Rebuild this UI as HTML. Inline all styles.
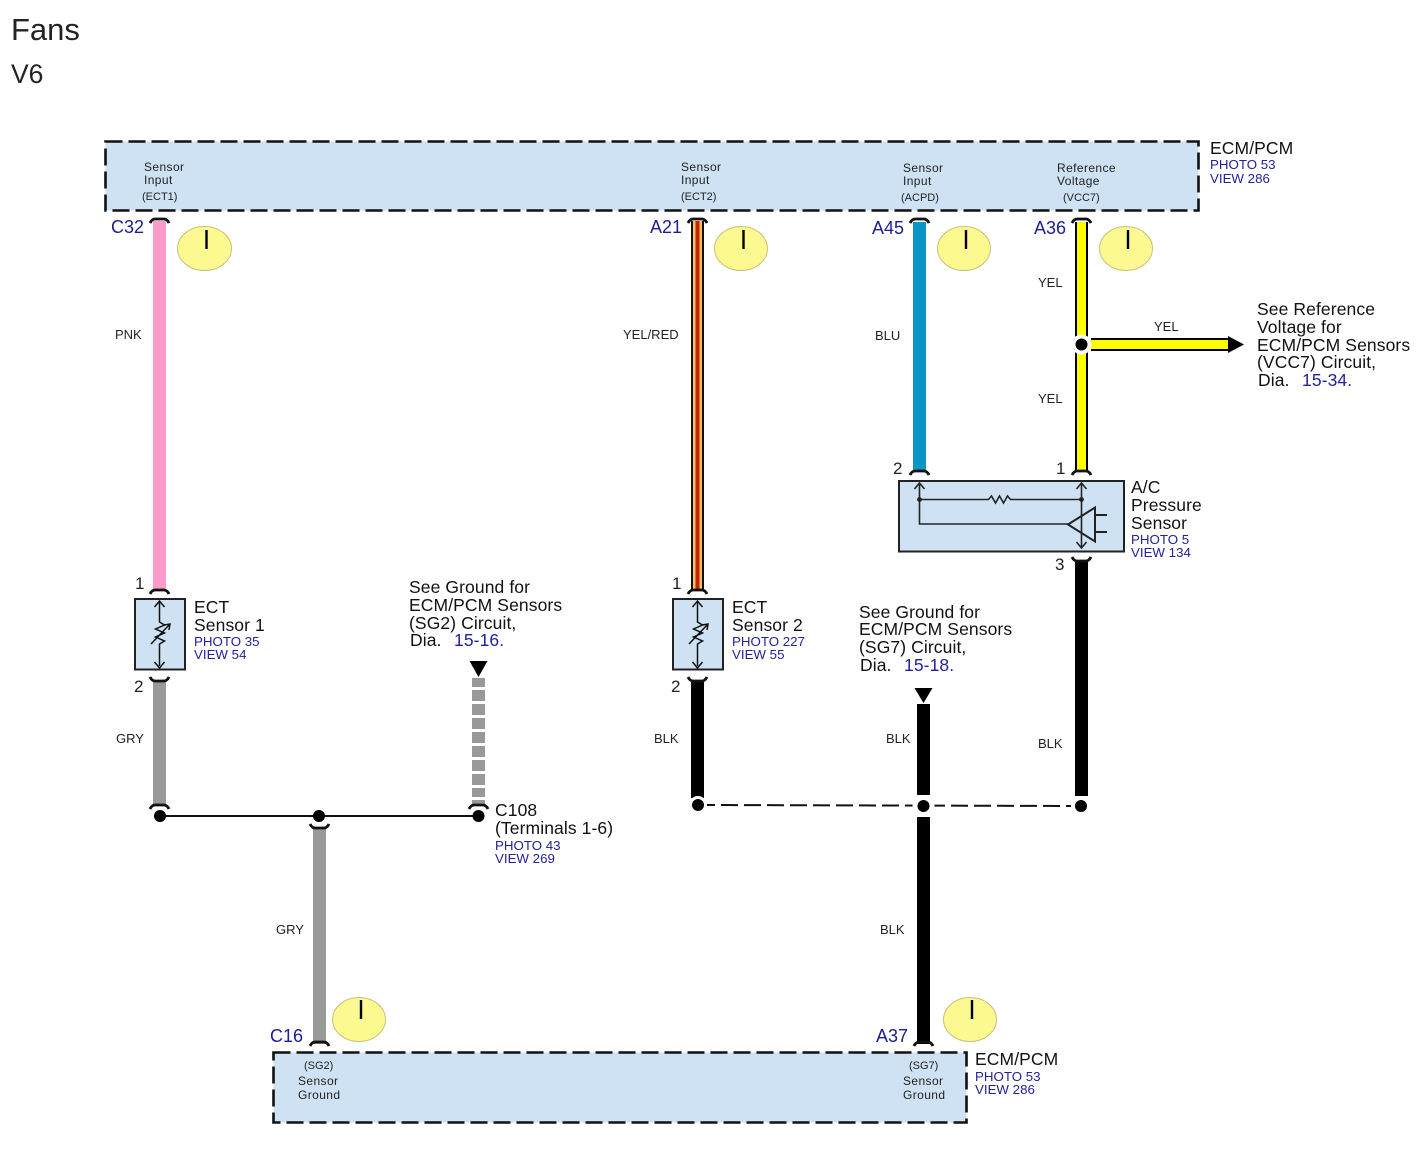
<!DOCTYPE html>
<html><head><meta charset="utf-8"><style>
html,body{margin:0;padding:0;background:#fff}
svg{display:block}
text{font-family:"Liberation Sans",sans-serif;fill:#111}
.s{font-size:12px;fill:#222;letter-spacing:.4px}
.t{font-size:11px;fill:#222}
.w{font-size:13px;fill:#222}
.l{font-size:17.5px;fill:#111;letter-spacing:.1px}
.b{font-size:13.3px;fill:#22229a}
.c{font-size:18px;fill:#1c1c96}
.n{font-size:17px;fill:#222}
.cap{fill:none;stroke:#111;stroke-width:2.8}
</style></head><body>
<svg width="1428" height="1156" viewBox="0 0 1428 1156" xmlns="http://www.w3.org/2000/svg">
<rect width="1428" height="1156" fill="#fff"/>
<text x="11" y="40" font-size="31" style="fill:#222">Fans</text>
<text x="11" y="83" font-size="26.5" style="fill:#222">V6</text>

<!-- top ECM -->
<rect x="105.500" y="141.500" width="1093" height="69" fill="#cfe2f4" stroke="#111" stroke-width="2.6" stroke-dasharray="17 6"/>
<text class="s" x="144" y="171">Sensor</text><text class="s" x="144" y="184">Input</text><text class="t" x="142" y="200">(ECT1)</text>
<text class="s" x="681" y="171">Sensor</text><text class="s" x="681" y="184">Input</text><text class="t" x="681" y="200">(ECT2)</text>
<text class="s" x="903" y="172">Sensor</text><text class="s" x="903" y="185">Input</text><text class="t" x="901" y="201">(ACPD)</text>
<text class="s" x="1057" y="172">Reference</text><text class="s" x="1057" y="185">Voltage</text><text class="t" x="1063" y="201">(VCC7)</text>
<text class="l" x="1210" y="154">ECM/PCM</text>
<text class="b" x="1210" y="169">PHOTO 53</text><text class="b" x="1210" y="183">VIEW 286</text>

<!-- bottom ECM -->
<rect x="273.500" y="1052.500" width="693" height="70" fill="#cfe2f4" stroke="#111" stroke-width="2.6" stroke-dasharray="17 6"/>
<text class="t" x="304" y="1069">(SG2)</text><text class="s" x="298" y="1085">Sensor</text><text class="s" x="298" y="1099">Ground</text>
<text class="t" x="909" y="1069">(SG7)</text><text class="s" x="903" y="1085">Sensor</text><text class="s" x="903" y="1099">Ground</text>
<text class="l" x="975" y="1065">ECM/PCM</text>
<text class="b" x="975" y="1081">PHOTO 53</text><text class="b" x="975" y="1094">VIEW 286</text>

<!-- wires -->
<rect x="153" y="221" width="13" height="369" fill="#f99ccb"/>
<rect x="153" y="680" width="13" height="124" fill="#999"/>
<rect x="691" y="221" width="13" height="369" fill="#111"/>
<rect x="693" y="221" width="9" height="369" fill="#f5c15c"/>
<rect x="695.500" y="221" width="4" height="369" fill="#c8220f"/>
<rect x="691" y="680" width="13" height="118" fill="#000"/>
<rect x="913" y="222" width="13" height="248" fill="#0a95c6"/>
<rect x="1075" y="222" width="13" height="248" fill="#000"/>
<rect x="1077" y="222" width="9" height="248" fill="#ff0"/>
<rect x="1075" y="560" width="13" height="236" fill="#000"/>
<rect x="917" y="704" width="13" height="91" fill="#000"/>
<rect x="917" y="817" width="13" height="227" fill="#000"/>
<rect x="313" y="828" width="13" height="216" fill="#999"/>
<rect x="472" y="678" width="13" height="126" fill="#999"/>
<g fill="#fff"><rect x="472" y="687" width="13" height="3"/><rect x="472" y="701" width="13" height="3"/><rect x="472" y="715" width="13" height="3"/><rect x="472" y="729" width="13" height="3"/><rect x="472" y="743" width="13" height="3"/><rect x="472" y="757" width="13" height="3"/><rect x="472" y="771" width="13" height="3"/><rect x="472" y="785" width="13" height="3"/><rect x="472" y="797" width="13" height="3"/></g>

<!-- YEL arrow -->
<rect x="1076" y="338" width="12" height="14" fill="#fff"/>
<rect x="1091" y="338" width="138" height="13" fill="#000"/>
<rect x="1091" y="340" width="137" height="9" fill="#ff0"/>
<polygon points="1228,336 1244,344.500 1228,353" fill="#000"/>

<!-- connector caps -->
<g class="cap">
<path d="M150 223q2-4 5-4h9q3 0 5 4"/>
<path d="M688 223q2-4 5-4h9q3 0 5 4"/>
<path d="M910 223q2-4 5-4h9q3 0 5 4"/>
<path d="M1072 223q2-4 5-4h9q3 0 5 4"/>
<path d="M910 475q2-4 5-4h9q3 0 5 4"/>
<path d="M1072 475q2-4 5-4h9q3 0 5 4"/>
<path d="M150 594q2-4 5-4h9q3 0 5 4"/>
<path d="M688 594q2-4 5-4h9q3 0 5 4"/>
<path d="M150 677q2 4 5 4h9q3 0 5-4"/>
<path d="M688 677q2 4 5 4h9q3 0 5-4"/>
<path d="M1072 557q2 4 5 4h9q3 0 5-4"/>
<path d="M150 809q2-4 5-4h9q3 0 5 4"/>
<path d="M469 809q2-4 5-4h9q3 0 5 4"/>
<path d="M310 824q2 4 5 4h9q3 0 5-4"/>
<path d="M310 1046q2-4 5-4h9q3 0 5 4"/>
<path d="M914 1046q2-4 5-4h9q3 0 5 4"/>
</g>

<!-- wire labels -->
<text class="w" x="115" y="339">PNK</text>
<text class="w" x="623" y="339">YEL/RED</text>
<text class="w" x="875" y="340">BLU</text>
<text class="w" x="1038" y="287">YEL</text>
<text class="w" x="1038" y="403">YEL</text>
<text class="w" x="1154" y="331">YEL</text>
<text class="w" x="116" y="743">GRY</text>
<text class="w" x="654" y="743">BLK</text>
<text class="w" x="886" y="743">BLK</text>
<text class="w" x="1038" y="748">BLK</text>
<text class="w" x="276" y="934">GRY</text>
<text class="w" x="880" y="934">BLK</text>

<!-- connector names -->
<text class="c" x="111" y="233">C32</text>
<text class="c" x="650" y="233">A21</text>
<text class="c" x="872" y="234">A45</text>
<text class="c" x="1034" y="234">A36</text>
<text class="c" x="270" y="1042">C16</text>
<text class="c" x="876" y="1042">A37</text>

<!-- clocks -->
<g fill="#fbf98f" stroke="#c9c27a" stroke-width="1">
<ellipse cx="204.500" cy="248.500" rx="27" ry="22"/>
<ellipse cx="741" cy="248.500" rx="26.500" ry="22"/>
<ellipse cx="964" cy="248.500" rx="26.500" ry="22"/>
<ellipse cx="1126" cy="248.500" rx="26.500" ry="22"/>
<ellipse cx="359" cy="1019.500" rx="26.500" ry="22"/>
<ellipse cx="970" cy="1019.500" rx="26.500" ry="22"/>
</g>
<g stroke="#000" stroke-width="2.400">
<path d="M206.500 230v19M743.500 230v19M966 230v19M1128 230v19M361 1000v19M972 1000v19"/>
</g>

<!-- ECT 1 -->
<g>
<rect x="135" y="599" width="50" height="70.500" fill="#cfe2f4" stroke="#222" stroke-width="2"/>
<g fill="none" stroke="#111" stroke-width="1.500">
<path d="M159.500 601v21l5 3-9 4 9 4-9 4 9 4-5 3v22"/>
<path d="M154.500 607l5-6 5 6M154.500 662l5 6 5-6"/>
<path d="M151 644l19-20M164 625l6-1-1 6"/>
</g>
</g>
<text class="l" x="194" y="613">ECT</text><text class="l" x="194" y="631">Sensor 1</text>
<text class="b" x="194" y="646">PHOTO 35</text><text class="b" x="194" y="659">VIEW 54</text>
<text class="n" x="135" y="589">1</text><text class="n" x="134" y="692">2</text>

<!-- ECT 2 -->
<g transform="translate(538,0)">
<rect x="135" y="599" width="50" height="70.500" fill="#cfe2f4" stroke="#222" stroke-width="2"/>
<g fill="none" stroke="#111" stroke-width="1.500">
<path d="M159.500 601v21l5 3-9 4 9 4-9 4 9 4-5 3v22"/>
<path d="M154.500 607l5-6 5 6M154.500 662l5 6 5-6"/>
<path d="M151 644l19-20M164 625l6-1-1 6"/>
</g>
</g>
<text class="l" x="732" y="613">ECT</text><text class="l" x="732" y="631">Sensor 2</text>
<text class="b" x="732" y="646">PHOTO 227</text><text class="b" x="732" y="659">VIEW 55</text>
<text class="n" x="672" y="589">1</text><text class="n" x="671" y="692">2</text>

<!-- A/C sensor -->
<rect x="899" y="481" width="225" height="70.500" fill="#cfe2f4" stroke="#222" stroke-width="2"/>
<g fill="none" stroke="#222" stroke-width="1.600">
<path d="M919.500 483v41h149"/>
<path d="M919.500 499.500h69l3-3.500 4 7 4-7 4 7 4-7 3 3.500h71"/>
<path d="M1081.500 483v64"/>
<path d="M914.500 489l5-6 5 6M1076.500 489l5-6 5 6M1076.500 542l5 6 5-6"/>
<path d="M1068 524.500l27-17v34zM1096 515h11M1096 532h11" stroke-width="2"/>
</g>
<circle cx="919.500" cy="499.500" r="2.400" fill="#222"/><circle cx="1081.500" cy="499.500" r="2.400" fill="#222"/>
<text class="l" x="1131" y="493">A/C</text><text class="l" x="1131" y="511">Pressure</text><text class="l" x="1131" y="529">Sensor</text>
<text class="b" x="1131" y="544">PHOTO 5</text><text class="b" x="1131" y="557">VIEW 134</text>
<text class="n" x="893" y="474">2</text><text class="n" x="1056" y="474">1</text><text class="n" x="1055" y="570">3</text>

<!-- ground bus -->
<path d="M160 816H478" stroke="#111" stroke-width="2" fill="none"/>
<circle cx="160" cy="816" r="6" fill="#000"/><circle cx="319" cy="816" r="6" fill="#000"/><circle cx="478.500" cy="816" r="6" fill="#000"/>
<path d="M698 805L1081 806" stroke="#111" stroke-width="2" stroke-dasharray="17 6" fill="none"/>
<circle cx="698" cy="805" r="9" fill="#fff"/><circle cx="923.500" cy="806" r="11" fill="#fff"/><circle cx="1081" cy="806" r="10" fill="#fff"/>
<circle cx="698" cy="805" r="6" fill="#000"/><circle cx="923.500" cy="806" r="6" fill="#000"/><circle cx="1081" cy="806" r="6" fill="#000"/>
<circle cx="1081.500" cy="344.500" r="10" fill="#fff"/><circle cx="1081.500" cy="344.500" r="6" fill="#000"/>

<!-- triangles -->
<polygon points="469.500,661 487.500,661 478.500,677" fill="#000"/>
<polygon points="914.500,688 932.500,688 923.500,703" fill="#000"/>

<!-- refs -->
<text class="l" x="409" y="593">See Ground for</text>
<text class="l" x="409" y="611">ECM/PCM Sensors</text>
<text class="l" x="409" y="629">(SG2) Circuit,</text>
<text class="l" x="410" y="646">Dia.</text><text class="l" x="454" y="646" style="fill:#22229a">15-16.</text>

<text class="l" x="859" y="618">See Ground for</text>
<text class="l" x="859" y="635">ECM/PCM Sensors</text>
<text class="l" x="859" y="653">(SG7) Circuit,</text>
<text class="l" x="860" y="671">Dia.</text><text class="l" x="904" y="671" style="fill:#22229a">15-18.</text>

<text class="l" x="1257" y="315">See Reference</text>
<text class="l" x="1257" y="333">Voltage for</text>
<text class="l" x="1257" y="351">ECM/PCM Sensors</text>
<text class="l" x="1257" y="368">(VCC7) Circuit,</text>
<text class="l" x="1258" y="386">Dia.</text><text class="l" x="1302" y="386" style="fill:#22229a">15-34.</text>

<text class="l" x="495" y="816">C108</text>
<text class="l" x="495" y="834">(Terminals 1-6)</text>
<text class="b" x="495" y="850">PHOTO 43</text><text class="b" x="495" y="863">VIEW 269</text>
</svg>
</body></html>
